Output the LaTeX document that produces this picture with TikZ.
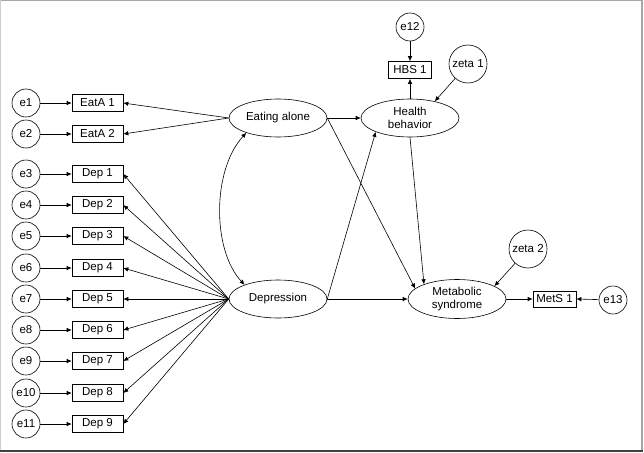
\documentclass[tikz,border=0pt]{standalone}
\usepackage{fontspec}
\setmainfont{Liberation Sans}
\usetikzlibrary{arrows.meta,shapes.geometric}
\begin{document}
\begin{tikzpicture}[x=1pt,y=-1pt,
  every node/.style={font=\fontsize{11.5}{13.5}\selectfont, align=center, inner sep=0pt},
  err/.style={draw, circle, minimum size=28pt, line width=0.6pt},
  zeta/.style={draw, circle, minimum size=38pt, line width=0.6pt},
  obs/.style={draw, rectangle, minimum width=51pt, minimum height=17pt, line width=0.6pt},
  obss/.style={draw, rectangle, minimum width=43pt, minimum height=17pt, line width=0.6pt},
  lat/.style={draw, ellipse, minimum width=98pt, minimum height=38pt, line width=0.6pt},
  arr/.style={line width=0.6pt, -{Latex[length=5pt,width=4.5pt]}},
  darr/.style={line width=0.6pt, {Latex[length=5pt,width=4.5pt]}-{Latex[length=5pt,width=4.5pt]}}
]
\useasboundingbox (0,0) rectangle (644,452);
\draw[gray!70, line width=1pt] (0.5,0.5) -- (641,0.5);
\draw[gray!40, line width=1pt] (0.5,0.5) -- (0.5,450);
\draw[gray!70, line width=2pt] (641.5,0.5) -- (641.5,451);
\draw[black!75, line width=2pt] (0,451) -- (642.5,451);

% latent variables
\node[lat] (ea) at (278,118) {Eating alone};
\node[lat] (dep) at (278,299) {Depression};
\node[lat] (hb) at (410,118) {Health\\behavior};
\node[lat, minimum height=39pt] (ms) at (457,299) {Metabolic\\syndrome};

% indicators and errors
\node[obs] (b1) at (97.5,103) {EatA 1};
\node[obs] (b2) at (97.5,134) {EatA 2};
\node[err] (e1) at (26,103) {e1};
\node[err] (e2) at (26,134) {e2};
\foreach \i/\y in {3/174,4/205,5/236,6/268,7/299,8/330,9/361,10/393,11/424}{
  \pgfmathtruncatemacro{\d}{\i-2}
  \node[obs] (b\i) at (97.5,\y) {Dep \d};
  \node[err] (e\i) at (26,\y) {e\i};
  \draw[arr] (e\i) -- (b\i);
  \draw[arr] (dep.west) -- (b\i.east);
}
\draw[arr] (e1) -- (b1);
\draw[arr] (e2) -- (b2);
\draw[arr] (ea.west) -- (b1.east);
\draw[arr] (ea.west) -- (b2.east);

\node[obss] (hbs) at (410,70) {HBS 1};
\node[err] (e12) at (410,27) {e12};
\node[zeta] (z1) at (468,64) {zeta 1};
\node[zeta] (z2) at (528,249) {zeta 2};
\node[obss, minimum height=16pt] (mets) at (554.5,299) {MetS 1};
\node[err] (e13) at (613,300) {e13};

% structural paths
\draw[darr] (ea.205) .. controls (212,170) and (212,250) .. (dep.157);
\draw[arr] (ea.east) -- (hb.west);
\draw[arr] (ea.east) -- (ms.166);
\draw[arr] (dep.east) -- (hb.202);
\draw[arr] (dep.east) -- (ms.west);
\draw[arr] (hb.south) -- (ms.156);
\draw[arr] (hb.north) -- (hbs.south);
\draw[arr] (e12) -- (hbs.north);
\draw[arr] (z1) -- (hb.34);
\draw[arr] (z2) -- (ms.19);
\draw[arr] (ms.east) -- (mets.west);
\draw[arr] (e13) -- (mets.east);
\end{tikzpicture}
\end{document}
